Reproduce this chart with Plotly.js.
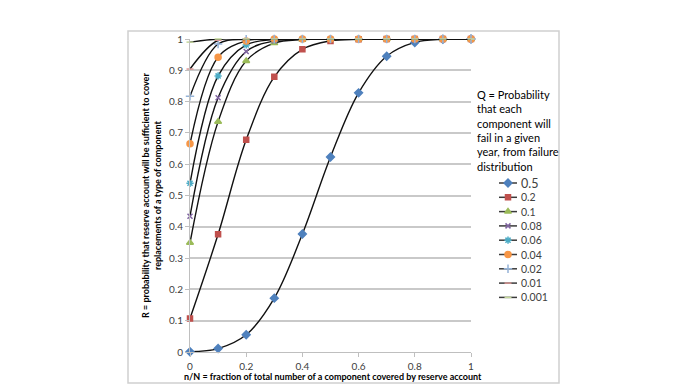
<!DOCTYPE html>
<html>
<head>
<meta charset="utf-8">
<script src="https://cdn.plot.ly/plotly-3.0.1.min.js"></script>
<style>
  html, body { margin: 0; padding: 0; background: #fff; }
  #chart { width: 690px; height: 388px; }
</style>
</head>
<body>
<div id="chart"></div>
<script>
// n/N values (fraction of components covered)
const fractions = [0, 0.1, 0.2, 0.3, 0.4, 0.5, 0.6, 0.7, 0.8, 0.9, 1];

// Q values shown in the legend
const seriesNames = ['0.5', '0.2', '0.1', '0.08', '0.06', '0.04', '0.02', '0.01', '0.001'];

// R values, one array per Q
const rQ05 = [0.001, 0.011, 0.055, 0.172, 0.377, 0.623, 0.828, 0.945, 0.989, 0.999, 1];
const rQ02 = [0.107, 0.376, 0.678, 0.879, 0.967, 0.994, 0.999, 1, 1, 1, 1];
const rQ01 = [0.349, 0.736, 0.930, 0.987, 0.998, 1, 1, 1, 1, 1, 1];
const rQ008 = [0.434, 0.812, 0.960, 0.994, 0.999, 1, 1, 1, 1, 1, 1];
const rQ006 = [0.539, 0.882, 0.981, 0.998, 1, 1, 1, 1, 1, 1, 1];
const rQ004 = [0.665, 0.942, 0.994, 1, 1, 1, 1, 1, 1, 1, 1];
const rQ002 = [0.817, 0.984, 0.999, 1, 1, 1, 1, 1, 1, 1, 1];
const rQ001 = [0.904, 0.996, 1, 1, 1, 1, 1, 1, 1, 1, 1];
const rQ0001 = [0.990, 1, 1, 1, 1, 1, 1, 1, 1, 1, 1];

const yTicks = [0, 0.1, 0.2, 0.3, 0.4, 0.5, 0.6, 0.7, 0.8, 0.9, 1];
const yTickText = ['0', '0.1', '0.2', '0.3', '0.4', '0.5', '0.6', '0.7', '0.8', '0.9', '1'];
const xTicks = [0, 0.2, 0.4, 0.6, 0.8, 1];
const xTickText = ['0', '0.2', '0.4', '0.6', '0.8', '1'];

const allSeries = [rQ05, rQ02, rQ01, rQ008, rQ006, rQ004, rQ002, rQ001, rQ0001];

// Excel-style marker looks
const markerStyles = [
    { symbol: 'diamond', color: '#4F81BD', size: 6 },
    { symbol: 'square', color: '#C0504D', size: 5 },
    { symbol: 'triangle-up', color: '#9BBB59', size: 6 },
    { symbol: 'x-thin-open', color: '#8064A2', size: 5 },
    { symbol: 'asterisk-open', color: '#4BACC6', size: 6 },
    { symbol: 'circle', color: '#F79646', size: 6 },
    { symbol: 'cross-thin-open', color: '#95B3D7', size: 6 },
    { symbol: 'line-ew-open', color: '#D99694', size: 5 },
    { symbol: 'line-ew-open', color: '#C3D69B', size: 5 }
];

const fontFam = 'Lato, "Open Sans", sans-serif';
const W = 690, H = 388;

// plot area in pixels
const plotL = 190, plotR = 471, plotT = 39, plotB = 352;

const traces = allSeries.map((vals, i) => {
    const st = markerStyles[i];
    return {
        x: fractions,
        y: vals,
        name: seriesNames[i],
        type: 'scatter',
        mode: 'lines+markers',
        cliponaxis: false,
        showlegend: false,
        line: { color: '#111', width: 1.4, shape: 'spline', smoothing: 1 },
        marker: {
            symbol: st.symbol,
            size: st.size,
            color: st.color,
            line: { color: st.color, width: 1.5 }
        }
    };
});

// hand-made legend (Excel spacing is tighter than Plotly's), drawn on a pixel overlay axis
const legTop = 183, legStep = 14.3, legX0 = 499, legX1 = 517;
const annotations = [];
seriesNames.forEach((name, i) => {
    const yy = legTop + i * legStep;
    traces.push({
        x: [legX0, legX1], y: [yy, yy],
        xaxis: 'x2', yaxis: 'y2',
        mode: 'lines', showlegend: false, hoverinfo: 'skip',
        cliponaxis: false,
        line: { color: '#3a3a3a', width: 1.5 }
    });
    traces.push({
        x: [(legX0 + legX1) / 2], y: [yy],
        xaxis: 'x2', yaxis: 'y2',
        mode: 'markers', showlegend: false, hoverinfo: 'skip',
        cliponaxis: false,
        marker: {
            symbol: markerStyles[i].symbol,
            size: markerStyles[i].size,
            color: markerStyles[i].color,
            line: { color: markerStyles[i].color, width: 1.5 }
        }
    });
    annotations.push({
        xref: 'paper', yref: 'paper',
        x: (legX1 + 2) / W, y: 1 - yy / H,
        xanchor: 'left', yanchor: 'middle',
        showarrow: false,
        text: name,
        font: { family: fontFam, size: i === 0 ? 12.5 : 10.5, color: '#404040' }
    });
});

annotations.push({
    xref: 'paper', yref: 'paper',
    x: 475 / W, y: 1 - 86 / H,
    xanchor: 'left', yanchor: 'top',
    align: 'left',
    showarrow: false,
    text: 'Q = Probability<br>that each<br>component will<br>fail in a given<br>year, from failure<br>distribution',
    font: { family: fontFam, size: 11, color: '#000' }
});

// axis titles
annotations.push({
    xref: 'paper', yref: 'paper',
    x: 333 / W, y: 1 - 376 / H,
    xanchor: 'center', yanchor: 'middle',
    showarrow: false,
    text: '<b>n/N = fraction of total number of a component covered by reserve account</b>',
    font: { family: fontFam, size: 9, color: '#000' }
});
annotations.push({
    xref: 'paper', yref: 'paper',
    x: 151 / W, y: 1 - 196 / H,
    xanchor: 'center', yanchor: 'middle',
    textangle: -90,
    showarrow: false,
    text: '<b>R = probability that reserve account will be sufficient to cover<br>replacements of a type of component</b>',
    font: { family: fontFam, size: 9, color: '#000' }
});

const layout = {
    width: W,
    height: H,
    margin: { l: 0, r: 0, t: 0, b: 0 },
    paper_bgcolor: '#ffffff',
    plot_bgcolor: 'rgba(0,0,0,0)',
    font: { family: fontFam, size: 10, color: '#404040' },
    showlegend: false,
    xaxis: {
        domain: [plotL / W, plotR / W],
        range: [0, 1],
        tickvals: xTicks,
        ticktext: xTickText,
        showgrid: false,
        zeroline: false,
        showline: true,
        linecolor: '#BFBFBF',
        linewidth: 1,
        ticks: 'outside',
        ticklen: 4,
        tickcolor: '#BFBFBF',
        ticklabelstandoff: 1,
        tickfont: { family: fontFam, size: 10, color: '#404040' },
        fixedrange: true
    },
    yaxis: {
        domain: [1 - plotB / H, 1 - plotT / H],
        range: [0, 1],
        tickvals: yTicks,
        ticktext: yTickText,
        showgrid: true,
        gridcolor: '#C9C9C9',
        gridwidth: 1.5,
        zeroline: false,
        showline: true,
        linecolor: '#BFBFBF',
        linewidth: 1,
        ticks: 'outside',
        ticklen: 4,
        tickcolor: '#BFBFBF',
        tickfont: { family: fontFam, size: 10, color: '#404040' },
        fixedrange: true
    },
    // pixel overlay for the legend
    xaxis2: { domain: [0, 1], range: [0, W], visible: false, anchor: 'y2', fixedrange: true },
    yaxis2: { domain: [0, 1], range: [H, 0], visible: false, anchor: 'x2', fixedrange: true },
    annotations: annotations,
    shapes: [{
        type: 'rect',
        xref: 'paper', yref: 'paper',
        x0: 128 / W, x1: 559 / W,
        y0: 1 - 383 / H, y1: 1 - 31 / H,
        line: { color: '#D0D0D0', width: 1.5 },
        layer: 'below'
    }]
};

Plotly.newPlot('chart', traces, layout, { displayModeBar: false, responsive: false });
</script>
</body>
</html>
